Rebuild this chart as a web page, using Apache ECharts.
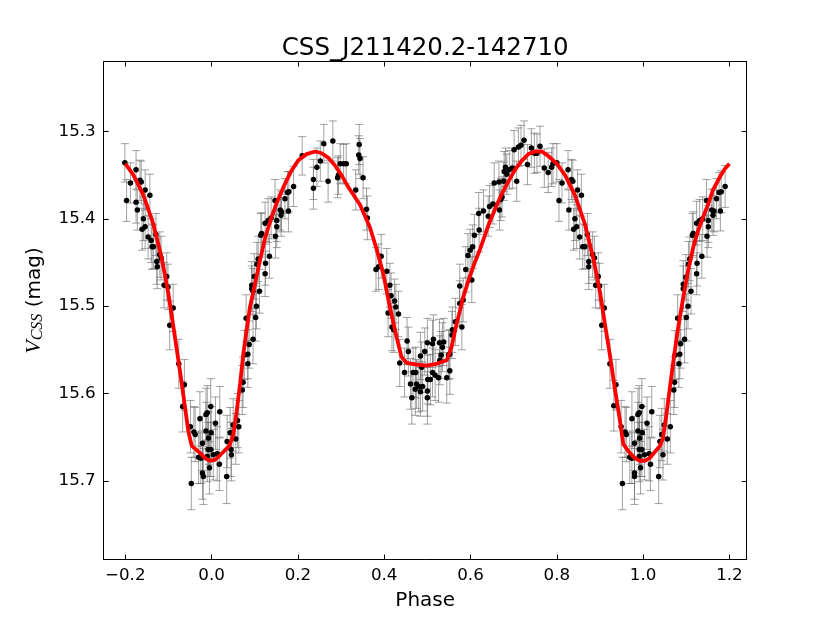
<!DOCTYPE html>
<html>
<head>
<meta charset="utf-8">
<script src="https://cdn.jsdelivr.net/npm/echarts@6/dist/echarts.min.js"></script>
<style>
html,body{margin:0;padding:0;background:#ffffff;}
#chart{width:830px;height:623px;}
</style>
</head>
<body>
<div id="chart"></div>
<script>
// ---------------- data ----------------
const chartTitle = 'CSS_J211420.2-142710';
const xTicks = [-0.2, 0.0, 0.2, 0.4, 0.6, 0.8, 1.0, 1.2];
const yTicks = [15.3, 15.4, 15.5, 15.6, 15.7];

// observed points: phase, magnitude, magnitude error
const phase = [
 -0.201,-0.197,-0.188,-0.175,-0.175,-0.172,-0.166,-0.163,-0.158,-0.161,
 -0.154,-0.154,-0.147,-0.143,-0.140,-0.138,-0.135,-0.129,-0.127,-0.126,
 -0.120,-0.117,-0.110,-0.104,-0.101,-0.089,-0.097,-0.076,-0.063,-0.067,
 -0.049,-0.041,-0.038,-0.047,-0.027,-0.030,-0.025,-0.021,-0.021,-0.019,
 -0.013,-0.010,-0.013,-0.007,-0.008,-0.010,-0.002,-0.001,-0.002,-0.005,
 0.004,0.009,0.013,0.018,0.019,0.035,0.036,
 0.045,0.046,0.043,0.050,0.056,0.060,0.063,0.071,0.073,0.076,
 0.084,0.084,0.087,0.096,0.080,0.102,0.104,0.093,0.093,0.096,
 0.099,0.105,0.108,0.111,0.114,0.116,0.124,0.125,0.134,0.124,
 0.131,0.138,0.147,0.148,0.151,0.151,0.159,0.161,0.162,0.170,
 0.176,0.179,0.178,0.190,0.210,0.236,0.236,0.244,0.252,0.260,
 0.270,0.281,0.292,0.294,0.298,0.306,0.312,
 0.342,0.341,0.344,0.351,0.334,0.359,0.361,0.381,0.387,0.393,
 0.406,0.413,0.416,0.424,0.427,0.409,0.433,0.418,0.422,0.436,
 0.447,0.453,0.456,0.461,0.464,0.467,0.473,0.475,0.472,0.480,
 0.484,0.484,0.487,0.489,0.494,0.500,0.500,0.500,0.501,0.507,
 0.512,0.512,0.514,0.518,0.526,0.528,0.529,0.532,0.535,0.538,
 0.545,0.549,0.552,0.552,0.557,0.558,0.565,0.575,0.575,0.580,
 0.583,0.589,0.594,0.599,0.603,0.605,0.609,0.619,0.620,
 0.630,0.641,0.644,0.652,0.655,0.666,0.667,0.670,0.673,0.677,
 0.678,0.681,0.684,0.690,0.697,0.701,0.707,0.711,0.717,0.724,
 0.732,0.741,0.748,0.754,0.761,0.771,0.780,0.788,0.791,0.800,
 0.805,0.812,0.826,0.828,0.834,0.837,0.842,0.839,0.846,0.848,
 0.853,0.857,0.860,0.865,0.871,0.874,0.874,0.883,0.887,0.890,
 0.896,0.899,0.904,0.910,
 0.923,0.937,0.932,0.949,0.958,0.961,0.952,0.974,0.969,0.974,
 0.980,0.980,0.980,0.988,0.991,0.988,0.992,0.991,0.991,0.997,
 0.998,0.997,0.994,1.003,1.009,1.014,1.017,1.020,1.036,1.039,
 1.043,1.046,1.049,1.056,1.063,1.071,1.073,1.074,1.083,1.085,
 1.080,1.087,1.096,1.100,1.104,1.093,1.093,1.099,1.105,1.108,
 1.111,1.114,1.116,1.124,1.125,1.136,1.124,1.131,1.138,1.147,
 1.148,1.151,1.151,1.159,1.162,1.164,1.170,1.176,1.181,1.179,
 1.190
];
const mag = [
 15.336,15.379,15.359,15.344,15.381,15.390,15.356,15.358,15.400,15.412,
 15.367,15.409,15.421,15.373,15.425,15.432,15.432,15.418,15.449,15.455,
 15.441,15.445,15.476,15.466,15.478,15.502,15.522,15.566,15.590,15.615,
 15.638,15.644,15.647,15.703,15.629,15.673,15.674,15.657,15.691,15.695,
 15.624,15.622,15.643,15.651,15.664,15.672,15.615,15.645,15.664,15.685,
 15.670,15.634,15.669,15.681,15.621,15.695,15.655,
 15.664,15.670,15.645,15.636,15.652,15.631,15.638,15.596,15.587,15.556,
 15.566,15.555,15.544,15.538,15.514,15.513,15.500,15.480,15.476,15.483,
 15.466,15.452,15.446,15.483,15.419,15.417,15.463,15.451,15.443,15.405,
 15.402,15.399,15.379,15.420,15.402,15.409,15.390,15.396,15.392,15.377,
 15.370,15.369,15.391,15.363,15.328,15.355,15.365,15.341,15.334,15.314,
 15.357,15.311,15.353,15.350,15.337,15.337,15.337,
 15.315,15.327,15.331,15.353,15.367,15.389,15.399,15.458,15.455,15.443,
 15.460,15.476,15.488,15.494,15.501,15.508,15.509,15.524,15.527,15.565,
 15.576,15.540,15.552,15.589,15.605,15.576,15.576,15.589,15.595,15.592,
 15.598,15.557,15.570,15.592,15.552,15.542,15.597,15.605,15.584,15.584,
 15.576,15.543,15.538,15.579,15.582,15.542,15.562,15.556,15.547,15.541,
 15.582,15.556,15.574,15.555,15.533,15.527,15.518,15.497,15.477,15.524,
 15.493,15.458,15.442,15.436,15.470,15.432,15.419,15.394,15.413,
 15.391,15.397,15.386,15.383,15.359,15.358,15.390,15.378,15.375,15.357,
 15.346,15.341,15.349,15.344,15.342,15.321,15.357,15.318,15.316,15.310,
 15.338,15.319,15.325,15.325,15.317,15.342,15.347,15.341,15.337,15.336,
 15.379,15.359,15.344,15.390,15.355,15.357,15.400,15.412,15.409,15.367,
 15.421,15.373,15.432,15.432,15.418,15.455,15.449,15.441,15.445,15.476,
 15.466,15.477,15.522,15.502,
 15.566,15.590,15.614,15.638,15.644,15.647,15.703,15.629,15.673,15.674,
 15.657,15.691,15.695,15.624,15.622,15.643,15.651,15.664,15.672,15.615,
 15.645,15.664,15.685,15.670,15.634,15.669,15.681,15.621,15.695,15.655,
 15.647,15.670,15.636,15.652,15.638,15.596,15.587,15.556,15.566,15.555,
 15.514,15.543,15.538,15.513,15.500,15.480,15.475,15.467,15.452,15.446,
 15.483,15.419,15.417,15.463,15.451,15.443,15.405,15.402,15.400,15.379,
 15.420,15.402,15.409,15.390,15.396,15.391,15.377,15.370,15.369,15.391,
 15.363
];
const magErr = [
 0.022,0.024,0.023,0.022,0.024,0.023,0.023,0.024,0.025,0.024,
 0.023,0.025,0.025,0.024,0.025,0.026,0.025,0.024,0.026,0.025,
 0.026,0.025,0.026,0.027,0.026,0.027,0.028,0.028,0.029,0.029,
 0.030,0.029,0.031,0.030,0.031,0.030,0.029,0.031,0.030,0.032,
 0.030,0.031,0.033,0.030,0.031,0.029,0.032,0.030,0.031,0.030,
 0.029,0.030,0.031,0.030,0.029,0.031,0.030,
 0.031,0.030,0.029,0.030,0.029,0.031,0.030,0.028,0.029,0.028,
 0.027,0.028,0.027,0.028,0.027,0.027,0.026,0.026,0.027,0.026,
 0.026,0.025,0.026,0.025,0.025,0.024,0.026,0.025,0.025,0.024,
 0.025,0.024,0.024,0.025,0.024,0.024,0.023,0.024,0.023,0.023,
 0.024,0.023,0.024,0.023,0.022,0.023,0.024,0.022,0.023,0.022,
 0.024,0.023,0.023,0.022,0.023,0.022,0.023,
 0.023,0.022,0.023,0.024,0.023,0.024,0.025,0.025,0.026,0.025,
 0.026,0.025,0.026,0.025,0.026,0.027,0.026,0.027,0.026,0.027,
 0.028,0.027,0.028,0.029,0.030,0.028,0.029,0.028,0.030,0.029,
 0.028,0.027,0.029,0.028,0.027,0.028,0.029,0.030,0.028,0.029,
 0.028,0.027,0.028,0.029,0.028,0.027,0.028,0.027,0.028,0.027,
 0.029,0.028,0.027,0.028,0.027,0.026,0.027,0.026,0.025,0.026,
 0.025,0.026,0.025,0.024,0.026,0.025,0.024,0.024,0.025,
 0.024,0.023,0.024,0.023,0.023,0.024,0.023,0.024,0.023,0.022,
 0.023,0.022,0.023,0.022,0.023,0.022,0.023,0.022,0.023,0.022,
 0.023,0.022,0.023,0.022,0.023,0.022,0.023,0.022,0.023,0.022,
 0.024,0.023,0.022,0.023,0.023,0.024,0.025,0.024,0.025,0.023,
 0.025,0.024,0.026,0.025,0.024,0.026,0.025,0.026,0.025,0.026,
 0.027,0.026,0.028,0.027,
 0.028,0.029,0.029,0.030,0.029,0.031,0.030,0.031,0.030,0.029,
 0.031,0.030,0.032,0.030,0.031,0.033,0.030,0.031,0.029,0.032,
 0.030,0.031,0.030,0.029,0.030,0.031,0.030,0.029,0.031,0.030,
 0.030,0.029,0.030,0.029,0.030,0.028,0.029,0.028,0.027,0.028,
 0.027,0.028,0.027,0.027,0.026,0.026,0.027,0.026,0.026,0.025,
 0.026,0.025,0.025,0.024,0.026,0.025,0.025,0.024,0.025,0.024,
 0.024,0.025,0.024,0.024,0.023,0.024,0.023,0.023,0.024,0.023,
 0.024
];

// fitted light curve (red)
const fitPhase = [
 -0.200,-0.181,-0.158,-0.135,-0.116,-0.100,-0.089,-0.073,-0.062,-0.054,
 -0.046,-0.027,-0.015,-0.004,0.008,0.019,0.031,0.041,0.050,0.058,
 0.066,0.073,0.081,0.089,0.100,0.112,0.124,0.139,0.155,0.170,
 0.185,0.201,0.220,0.240,0.255,0.270,0.286,0.301,0.317,0.332,
 0.344,0.367,0.382,0.398,0.413,0.429,0.440,0.452,0.475,0.498,
 0.521,0.545,0.556,0.568,0.583,0.597,0.610,0.622,0.641,0.656,
 0.672,0.687,0.703,0.718,0.734,0.749,0.765,0.780,0.800,0.819,
 0.842,0.865,0.884,0.900,0.911,0.923,0.934,0.946,0.954,0.969,
 0.981,0.992,1.004,1.015,1.027,1.039,1.046,1.054,1.062,1.070,
 1.081,1.093,1.104,1.116,1.127,1.139,1.151,1.162,1.178,1.189,
 1.200
];
const fitMag = [
 15.337,15.350,15.373,15.406,15.444,15.486,15.522,15.575,15.614,15.643,
 15.660,15.668,15.674,15.677,15.676,15.671,15.665,15.660,15.648,15.621,
 15.589,15.557,15.528,15.501,15.476,15.448,15.422,15.398,15.377,15.360,
 15.345,15.333,15.326,15.323,15.325,15.330,15.339,15.350,15.364,15.375,
 15.384,15.410,15.434,15.463,15.501,15.536,15.558,15.565,15.567,15.568,
 15.566,15.562,15.547,15.520,15.490,15.468,15.450,15.435,15.408,15.390,
 15.372,15.358,15.344,15.334,15.326,15.323,15.323,15.328,15.337,15.350,
 15.373,15.406,15.444,15.484,15.519,15.556,15.593,15.630,15.658,15.668,
 15.674,15.677,15.677,15.674,15.667,15.660,15.651,15.624,15.593,15.563,
 15.525,15.490,15.460,15.433,15.414,15.398,15.383,15.367,15.352,15.343,
 15.337
];

// ---------------- chart ----------------
const FONT = 'DejaVu Sans';
const n = Math.min(phase.length, mag.length, magErr.length);
const points = [], bars = [];
for (let i = 0; i < n; i++) {
  points.push([phase[i], mag[i]]);
  bars.push([phase[i], mag[i], magErr[i]]);
}
const fitLine = [];
for (let i = 0; i < Math.min(fitPhase.length, fitMag.length); i++) fitLine.push([fitPhase[i], fitMag[i]]);

const fmtX = v => v.toFixed(1).replace('-', '\u2212');
const fmtY = v => v.toFixed(1);
const frameLine = {show: true, onZero: false, lineStyle: {color: '#000', width: 1}};
const tickStyle = {color: '#000', width: 1};

const chart = echarts.init(document.getElementById('chart'), null, {renderer: 'canvas'});
chart.setOption({
  animation: false,
  backgroundColor: '#ffffff',
  title: {
    text: chartTitle,
    left: 425.2, top: 36, textAlign: 'center', padding: 0,
    textStyle: {fontFamily: FONT, fontSize: 24.5, fontWeight: 'normal', color: '#000'}
  },
  grid: {left: 103.7, right: 83.3, top: 61.5, bottom: 63.5, containLabel: false},
  xAxis: [
    {
      type: 'value', min: -0.25, max: 1.24, position: 'bottom',
      name: 'Phase', nameLocation: 'middle', nameGap: 31,
      nameTextStyle: {fontFamily: FONT, fontSize: 20, color: '#000'},
      axisLine: frameLine,
      axisTick: {show: true, inside: true, length: 5, customValues: xTicks, lineStyle: tickStyle},
      axisLabel: {show: true, customValues: xTicks, formatter: fmtX, fontFamily: FONT, fontSize: 16.7, color: '#000', margin: 8},
      splitLine: {show: false}
    },
    {
      type: 'value', min: -0.25, max: 1.24, position: 'top',
      axisLine: frameLine,
      axisTick: {show: true, inside: true, length: 5, customValues: xTicks, lineStyle: tickStyle},
      axisLabel: {show: false},
      splitLine: {show: false}
    }
  ],
  yAxis: [
    {
      type: 'value', min: 15.22, max: 15.79, inverse: true, position: 'left',
      name: '{v|V}{s|CSS}{n| (mag)}', nameLocation: 'middle', nameRotate: 90, nameGap: 58,
      nameTextStyle: {
        fontFamily: FONT, fontSize: 20, color: '#000', padding: [0, 0, 0, 20],
        rich: {
          v: {fontFamily: 'Liberation Serif', fontStyle: 'italic', fontSize: 22, color: '#000'},
          s: {fontFamily: 'Liberation Serif', fontStyle: 'italic', fontSize: 16, color: '#000', verticalAlign: 'bottom'},
          n: {fontFamily: FONT, fontSize: 20, color: '#000'}
        }
      },
      axisLine: frameLine,
      axisTick: {show: true, inside: true, length: 5, customValues: yTicks, lineStyle: tickStyle},
      axisLabel: {show: true, customValues: yTicks, formatter: fmtY, fontFamily: FONT, fontSize: 16.7, color: '#000', margin: 8},
      splitLine: {show: false}
    },
    {
      type: 'value', min: 15.22, max: 15.79, inverse: true, position: 'right',
      axisLine: frameLine,
      axisTick: {show: true, inside: true, length: 5, customValues: yTicks, lineStyle: tickStyle},
      axisLabel: {show: false},
      splitLine: {show: false}
    }
  ],
  series: [
    {
      name: 'errors', type: 'custom', xAxisIndex: 0, yAxisIndex: 0, silent: true, z: 1,
      data: bars, encode: {x: 0, y: 1},
      renderItem: function (params, api) {
        const x = api.value(0), y = api.value(1), e = api.value(2);
        const a = api.coord([x, y - e]);
        const b = api.coord([x, y + e]);
        const cw = 4;
        const st = {stroke: 'rgba(100,100,100,0.6)', lineWidth: 1, fill: null};
        return {
          type: 'group',
          children: [
            {type: 'line', shape: {x1: a[0], y1: a[1], x2: b[0], y2: b[1]}, style: st},
            {type: 'line', shape: {x1: a[0] - cw, y1: a[1], x2: a[0] + cw, y2: a[1]}, style: st},
            {type: 'line', shape: {x1: b[0] - cw, y1: b[1], x2: b[0] + cw, y2: b[1]}, style: st}
          ]
        };
      }
    },
    {
      name: 'observations', type: 'scatter', xAxisIndex: 0, yAxisIndex: 0, z: 3,
      data: points, symbol: 'circle', symbolSize: 5.5,
      itemStyle: {color: '#000000', opacity: 1}
    },
    {
      name: 'fit', type: 'line', xAxisIndex: 0, yAxisIndex: 0, z: 4,
      data: fitLine, showSymbol: false, symbol: 'none', smooth: false,
      lineStyle: {color: '#ff0000', width: 3.8}
    }
  ]
});
</script>
</body>
</html>
